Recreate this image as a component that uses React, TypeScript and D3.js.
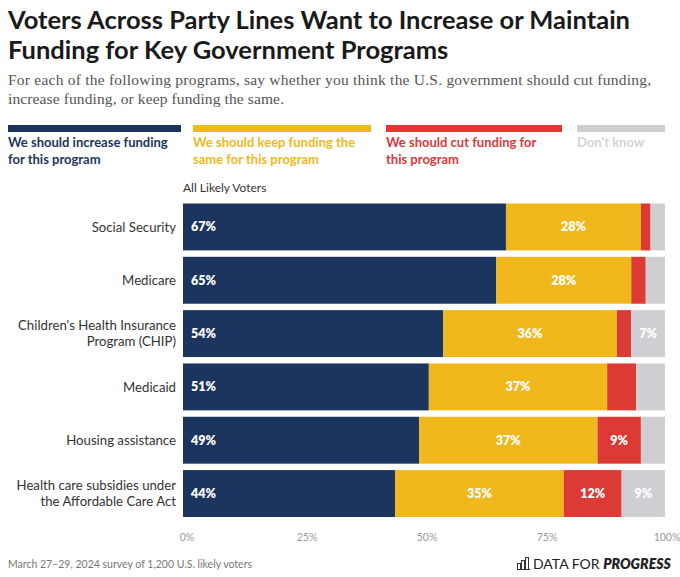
import React from "react";
import * as d3 from "d3";

const categories = [
  "Social Security",
  "Medicare",
  "Children's Health Insurance Program (CHIP)",
  "Medicaid",
  "Housing assistance",
  "Health care subsidies under the Affordable Care Act",
];
const categoryLines = [
  ["Social Security"],
  ["Medicare"],
  ["Children's Health Insurance", "Program (CHIP)"],
  ["Medicaid"],
  ["Housing assistance"],
  ["Health care subsidies under", "the Affordable Care Act"],
];
const increase = [67, 65, 54, 51, 49, 44];
const keep = [28, 28, 36, 37, 37, 35];
const cut = [2, 3, 3, 6, 9, 12];
const dontKnow = [3, 4, 7, 6, 5, 9];
const seriesNames = [
  ["We should increase funding", "for this program"],
  ["We should keep funding the", "same for this program"],
  ["We should cut funding for", "this program"],
  ["Don't know"],
];
const tickValues = [0, 25, 50, 75, 100];

const COLORS = ["#1c355e", "#f0b81d", "#dc3a35", "#d1ced3"];
const LEGEND_TEXT = ["#1c355e", "#f0b81d", "#d9383a", "#d3d3d6"];
const SANS = "Lato, 'Open Sans', sans-serif";

export default function App() {
  const x = d3.scaleLinear().domain([0, 100]).range([183, 665]);
  const y = d3.scaleBand<string>().domain(categories).range([203.5, 517]).paddingInner(0.12);
  const series = [increase, keep, cut, dontKnow];
  const stackData = categories.map((c, i) => ({
    cat: c,
    s0: increase[i],
    s1: keep[i],
    s2: cut[i],
    s3: dontKnow[i],
  }));
  const stacked = d3.stack<any>().keys(["s0", "s1", "s2", "s3"])(stackData);

  const legendX = d3.scaleOrdinal<number, number>().domain([0, 1, 2, 3]).range([8, 193, 386, 577]);
  const legendEnd = [181, 371, 562, 665];

  return (
    <svg width={680} height={577} style={{ position: "absolute", left: 0, top: 0, background: "#fff" }}>
      <rect width={680} height={577} fill="#fff" />
      <text x={8} fontFamily={SANS} fontWeight={700} fontSize={25.5} fill="#1a1a1a">
        <tspan x={8} y={29}>Voters Across Party Lines Want to Increase or Maintain</tspan>
        <tspan x={8} y={59}>Funding for Key Government Programs</tspan>
      </text>
      <text fontFamily="'Liberation Serif', serif" fontSize={15.5} fill="#555">
        <tspan x={8} y={85} textLength={643} lengthAdjust="spacing">For each of the following programs, say whether you think the U.S. government should cut funding,</tspan>
        <tspan x={8} y={104} textLength={276} lengthAdjust="spacing">increase funding, or keep funding the same.</tspan>
      </text>

      {seriesNames.map((lines, i) => (
        <g key={i}>
          <rect x={legendX(i)} y={125} width={legendEnd[i] - legendX(i)} height={7} fill={COLORS[i]} />
          <text fontFamily={SANS} fontWeight={700} fontSize={13} fill={LEGEND_TEXT[i]}>
            {lines.map((l, j) => (
              <tspan key={j} x={legendX(i)} y={147 + j * 17}>
                {l}
              </tspan>
            ))}
          </text>
        </g>
      ))}

      <text x={183} y={192} fontFamily={SANS} fontSize={12} fill="#333">
        All Likely Voters
      </text>

      {stacked.map((layer, si) => (
        <g key={si}>
          {layer.map((d: any, ci: number) => {
            const x0 = x(d[0]);
            const x1 = x(d[1]);
            const yy = y(categories[ci])!;
            const v = series[si][ci];
            const showLabel = v >= 7;
            return (
              <g key={ci}>
                <rect x={x0} y={yy} width={x1 - x0} height={y.bandwidth()} fill={COLORS[si]} />
                {showLabel && (
                  <text
                    x={si === 0 ? x0 + 8 : (x0 + x1) / 2}
                    y={yy + y.bandwidth() / 2}
                    dy="0.35em"
                    textAnchor={si === 0 ? "start" : "middle"}
                    fontFamily={SANS}
                    fontWeight={800}
                    fontSize={12.5}
                    fill="#fff"
                  >
                    {v}%
                  </text>
                )}
              </g>
            );
          })}
        </g>
      ))}

      {categoryLines.map((lines, ci) => {
        const cy = y(categories[ci])! + y.bandwidth() / 2;
        const lh = 16;
        return (
          <text key={ci} textAnchor="end" fontFamily={SANS} fontSize={13.2} fill="#333">
            {lines.map((l, j) => (
              <tspan key={j} x={176} y={cy + (j - (lines.length - 1) / 2) * lh} dy="0.35em">
                {l}
              </tspan>
            ))}
          </text>
        );
      })}

      {tickValues.map((t) => (
        <text key={t} x={x(t) + 4 - t * 0.02} y={537} dy="0.35em" textAnchor="middle" fontFamily={SANS} fontSize={10.5} fill="#9a9a9a">
          {t}%
        </text>
      ))}

      <text x={8} y={564} dy="0.35em" fontFamily={SANS} fontSize={10.5} fill="#777">
        March 27–29, 2024 survey of 1,200 U.S. likely voters
      </text>

      <g transform="translate(517,556)" stroke="#333" strokeWidth={1} fill="none">
        <rect x={0.5} y={7.5} width={3} height={6} />
        <rect x={4.5} y={4.5} width={3} height={9} />
        <rect x={8.5} y={1.5} width={3} height={12} />
        <line x1={0} y1={13.5} x2={13} y2={13.5} />
      </g>
      <text x={533} y={564} dy="0.35em" fontFamily={SANS} fontSize={14} fill="#222">
        <tspan>DATA FOR </tspan>
        <tspan fontWeight={800} fontStyle="italic">PROGRESS</tspan>
      </text>
    </svg>
  );
}
